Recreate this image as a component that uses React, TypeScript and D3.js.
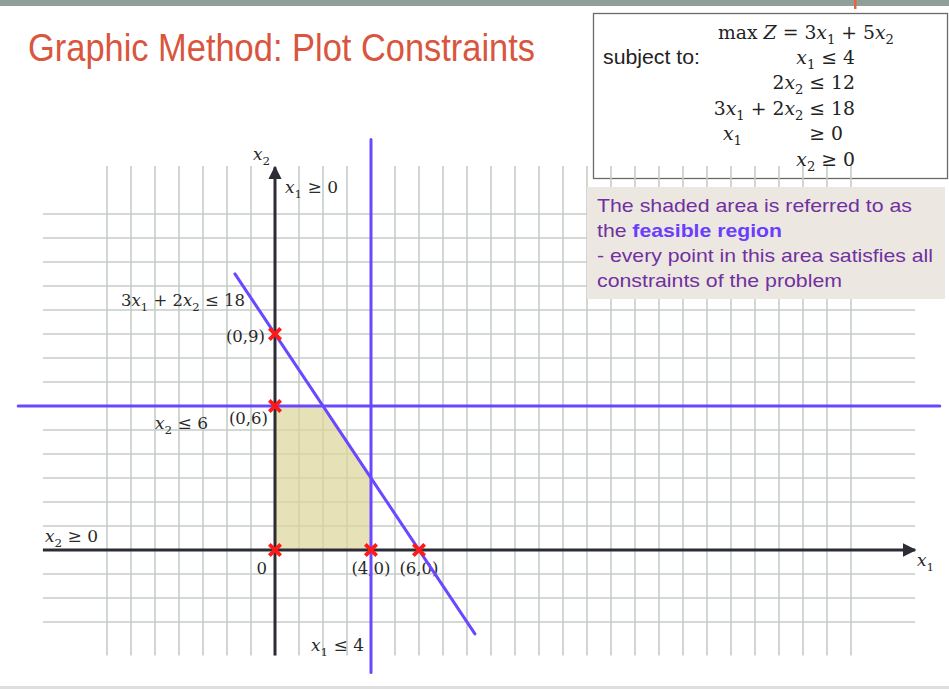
import { useEffect, useRef } from "react";
import * as d3 from "d3";

const W = 949;
const H = 689;

// ── Problem data ─────────────────────────────────────────────────────────
const feasibleRegion: [number, number][] = [[0, 0], [0, 6], [2, 6], [4, 3], [4, 0]];
const cornerPoints: [number, number][] = [[0, 9], [0, 6], [0, 0], [4, 0], [6, 0]];
const cornerLabels = ["(0,9)", "(0,6)", "0", "(4,0)", "(6,0)"];

// grid lines (x1 and x2 units)
const gridX = d3.range(-7, 25);
const gridY = d3.range(-3, 15);

// constraint boundaries, drawn over these extents
const x1Limit = 4;
const x1LimitSpan = [-5.1, 17.1];
const x2Limit = 6;
const x2LimitSpan = [-10.7, 27.7];
const mixCoef = [3, 2, 18]; // 3x1 + 2x2 <= 18
const mixSpan = [-1.67, 8.33];

const objectiveLines = [
  "max Z = 3x_1 + 5x_2",
  "x_1 ≤ 4",
  "2x_2 ≤ 12",
  "3x_1 + 2x_2 ≤ 18",
];

const noteLines = [
  "The shaded area is referred to as",
  "the ",
  "- every point in this area satisfies all",
  "constraints of the problem",
];

const PURPLE = "#6b48ff";
const GRID = "#c5ccc7";
const AXIS = "#2c2c34";
const MATH_FONT = "'DejaVu Serif', serif";
const SANS = "'Liberation Sans', Arial, sans-serif";

// writes "3x_1 + 2x_2" style strings: x / Z italic, _d subscript
function mathText(sel: d3.Selection<SVGTextElement, unknown, null, undefined>, s: string, fs: number) {
  const shift = fs * 0.28;
  let down = false;
  for (let i = 0; i < s.length; i++) {
    const ch = s[i];
    if (ch === "_") {
      sel.append("tspan").attr("dy", shift).attr("font-size", fs * 0.7).attr("font-style", "normal").text(s[i + 1]);
      down = true;
      i++;
      continue;
    }
    const t = sel.append("tspan").text(ch);
    if (down) { t.attr("dy", -shift); down = false; }
    if (ch === "x" || ch === "Z") {
      if (!(ch === "x" && s.slice(i - 2, i + 1) === "max")) t.attr("font-style", "italic");
    }
  }
  return sel;
}

function Slide() {
  const ref = useRef<SVGSVGElement>(null);

  useEffect(() => {
    document.body.style.margin = "0";
    if (!ref.current) return;
    const svg = d3.select(ref.current);
    svg.selectAll("*").remove();

    const x = d3.scaleLinear().domain([0, 4]).range([275, 371]);
    const y = d3.scaleLinear().domain([0, 6]).range([550, 406]);

    // ── slide chrome ──────────────────────────────────────────────────────
    svg.append("rect").attr("width", W).attr("height", H).attr("fill", "#fff");
    svg.append("rect").attr("width", W).attr("height", 6).attr("fill", "#8fa098");
    svg.append("rect").attr("x", 854).attr("width", 2.5).attr("height", 9).attr("fill", "#e0673f");
    svg.append("rect").attr("y", 686).attr("width", W).attr("height", 3).attr("fill", "#dedede");

    svg.append("text")
      .attr("x", 28).attr("y", 61)
      .attr("font-family", SANS).attr("font-size", 38)
      .attr("fill", "#d9553d")
      .attr("textLength", 507).attr("lengthAdjust", "spacingAndGlyphs")
      .text("Graphic Method: Plot Constraints");

    // ── objective / constraints box ───────────────────────────────────────
    svg.append("rect")
      .attr("x", 593.5).attr("y", 13.5).attr("width", 354).attr("height", 165)
      .attr("fill", "#fff").attr("stroke", "#6a6a6a").attr("stroke-width", 1.3);

    svg.append("text")
      .attr("x", 603).attr("y", 64)
      .attr("font-family", SANS).attr("font-size", 19.5).attr("fill", "#222")
      .attr("textLength", 97).attr("lengthAdjust", "spacingAndGlyphs")
      .text("subject to:");

    const boxMath = (s: string, px: number, py: number, anchor: string) =>
      mathText(
        svg.append("text").attr("x", px).attr("y", py).attr("text-anchor", anchor)
          .attr("font-family", MATH_FONT).attr("font-size", 18.8).attr("fill", "#222"),
        s, 18.8,
      );
    boxMath(objectiveLines[0], 718, 39, "start");
    boxMath(objectiveLines[1], 855, 64, "end");
    boxMath(objectiveLines[2], 855, 89, "end");
    boxMath(objectiveLines[3], 855, 115, "end");
    boxMath("x_1", 723, 140, "start");
    boxMath("≥ 0", 843, 140, "end");
    boxMath("x_2 ≥ 0", 855, 166, "end");

    // ── grid ──────────────────────────────────────────────────────────────
    const grid = svg.append("g").attr("stroke", GRID).attr("stroke-width", 1.6);
    grid.selectAll("line.v").data(gridX).join("line").attr("class", "v")
      .attr("x1", (d) => x(d)).attr("x2", (d) => x(d))
      .attr("y1", y(16)).attr("y2", y(-4.4));
    grid.selectAll("line.h").data(gridY).join("line").attr("class", "h")
      .attr("y1", (d) => y(d)).attr("y2", (d) => y(d))
      .attr("x1", x(-9.67)).attr("x2", x(26.67));

    // ── note box ──────────────────────────────────────────────────────────
    svg.append("rect")
      .attr("x", 587).attr("y", 187).attr("width", 358).attr("height", 112)
      .attr("fill", "#ece8e1");
    const noteWidths = [315, 185, 336, 245];
    noteLines.forEach((ln, i) => {
      const t = svg.append("text")
        .attr("x", 597).attr("y", 212 + i * 25)
        .attr("font-family", SANS).attr("font-size", 19).attr("fill", "#7030a0")
        .attr("textLength", noteWidths[i]).attr("lengthAdjust", "spacingAndGlyphs");
      if (i === 1) {
        t.append("tspan").text(ln);
        t.append("tspan").attr("font-weight", "bold").attr("fill", "#6a3dff").text("feasible region");
      } else {
        t.text(ln);
      }
    });

    // ── feasible region ───────────────────────────────────────────────────
    svg.append("path")
      .datum(feasibleRegion)
      .attr("d", d3.line<[number, number]>().x((d) => x(d[0])).y((d) => y(d[1]))(feasibleRegion) + "Z")
      .attr("fill", "#dcd69a").attr("fill-opacity", 0.72)
      .attr("stroke", "#5f6a5a").attr("stroke-width", 2);

    // ── axes ──────────────────────────────────────────────────────────────
    svg.append("defs").append("marker")
      .attr("id", "arrow").attr("viewBox", "0 0 10 10")
      .attr("refX", 9).attr("refY", 5)
      .attr("markerWidth", 4.5).attr("markerHeight", 4.5)
      .attr("markerUnits", "strokeWidth")
      .attr("orient", "auto")
      .append("path").attr("d", "M0,0 L10,5 L0,10 Z").attr("fill", AXIS);

    svg.append("line")
      .attr("x1", x(-9.67)).attr("x2", x(26.67)).attr("y1", y(0)).attr("y2", y(0))
      .attr("stroke", AXIS).attr("stroke-width", 3).attr("marker-end", "url(#arrow)");
    svg.append("line")
      .attr("x1", x(0)).attr("x2", x(0)).attr("y1", y(-4.4)).attr("y2", y(15.95))
      .attr("stroke", AXIS).attr("stroke-width", 3).attr("marker-end", "url(#arrow)");

    // ── labels ────────────────────────────────────────────────────────────
    const label = (s: string, px: number, py: number, anchor = "start", fs = 17) =>
      mathText(
        svg.append("text").attr("x", px).attr("y", py).attr("text-anchor", anchor)
          .attr("font-family", MATH_FONT).attr("font-size", fs).attr("fill", "#2a2a2a"),
        s, fs,
      );
    label("x_2", 253, 160);
    label("x_1", 917, 566);
    label("x_1 ≥ 0", 285, 193);
    label("3x_1 + 2x_2 ≤ 18", 121, 306, "start", 16.5);
    label("x_2 ≤ 6", 155, 429);
    label("x_2 ≥ 0", 45, 542);
    label("x_1 ≤ 4", 311, 651);

    const labelOffsets: [number, number, string][] = [
      [-10, 8, "end"], [-7, 18, "end"], [-8, 24, "end"], [0, 24, "middle"], [0, 24, "middle"],
    ];
    cornerPoints.forEach((p, i) => {
      const [dx, dy, anchor] = labelOffsets[i];
      svg.append("text")
        .attr("x", x(p[0]) + dx).attr("y", y(p[1]) + dy).attr("text-anchor", anchor)
        .attr("font-family", MATH_FONT).attr("font-size", 16.5).attr("fill", "#2a2a2a")
        .text(cornerLabels[i]);
    });

    // ── constraint lines ──────────────────────────────────────────────────
    const lines = svg.append("g").attr("stroke", PURPLE).attr("stroke-width", 3).attr("stroke-linecap", "round");
    lines.append("line")
      .attr("x1", x(x1Limit)).attr("x2", x(x1Limit))
      .attr("y1", y(x1LimitSpan[1])).attr("y2", y(x1LimitSpan[0]));
    lines.append("line")
      .attr("x1", x(x2LimitSpan[0])).attr("x2", x(x2LimitSpan[1]))
      .attr("y1", y(x2Limit)).attr("y2", y(x2Limit));
    const [a, b, c] = mixCoef;
    lines.append("line")
      .attr("x1", x(mixSpan[0])).attr("y1", y((c - a * mixSpan[0]) / b))
      .attr("x2", x(mixSpan[1])).attr("y2", y((c - a * mixSpan[1]) / b));

    // ── corner markers ────────────────────────────────────────────────────
    const cross = d3.symbol().type(d3.symbolX).size(85);
    svg.append("g").selectAll("path").data(cornerPoints).join("path")
      .attr("transform", (d) => `translate(${x(d[0])},${y(d[1])})`)
      .attr("d", cross)
      .attr("fill", "none").attr("stroke", "#ff1a1a").attr("stroke-width", 3.8);
  }, []);

  return <svg ref={ref} width={W} height={H} style={{ display: "block" }} />;
}

export default function App() {
  return <Slide />;
}
